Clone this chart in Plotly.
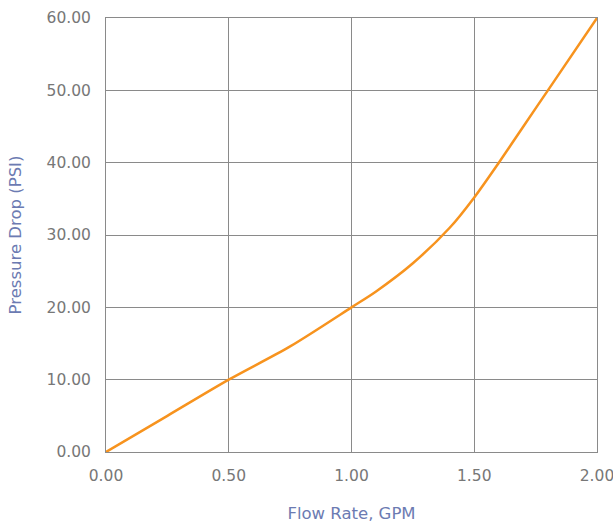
import plotly.graph_objects as go

flow_gpm = [0.0, 0.25, 0.5, 0.75, 1.0, 1.1, 1.25, 1.4, 1.5, 1.6, 1.7, 1.8, 2.0]
pressure_psi = [0.0, 5.0, 10.0, 14.6, 20.0, 22.2, 26.1, 31.0, 35.2, 40.0, 45.0, 50.0, 60.0]

x_ticks = [0.0, 0.5, 1.0, 1.5, 2.0]
y_ticks = [0, 10, 20, 30, 40, 50, 60]

grid = "#8a8a8a"
tick_col = "#777777"
title_col = "#6c7bb2"
font_fam = "DejaVu Sans, Open Sans, sans-serif"

fig = go.Figure()
fig.add_trace(go.Scatter(
    x=flow_gpm, y=pressure_psi, mode="lines",
    line=dict(color="#F7931E", width=2.5, shape="spline", smoothing=0.8),
    showlegend=False, hoverinfo="x+y",
))

fig.update_layout(
    width=613, height=523,
    margin=dict(l=106, r=16, t=18, b=71),
    paper_bgcolor="white", plot_bgcolor="white",
    font=dict(family=font_fam, size=15, color=tick_col),
)
fig.update_xaxes(
    range=[0, 2], tickvals=x_ticks, tickformat=".2f",
    automargin=False, ticklabeloverflow="allow",
    showgrid=True, gridcolor=grid, gridwidth=1,
    showline=True, linecolor=grid, linewidth=1, mirror=True,
    zeroline=False,
    ticks="outside", ticklen=9, tickcolor="rgba(0,0,0,0)",
    tickfont=dict(family=font_fam, size=15.5, color=tick_col),
    title=dict(text="Flow Rate, GPM", font=dict(family=font_fam, size=16.5, color=title_col), standoff=23),
)
fig.update_yaxes(
    range=[0, 60], tickvals=y_ticks, tickformat=".2f",
    automargin=False, ticklabeloverflow="allow",
    showgrid=True, gridcolor=grid, gridwidth=1,
    showline=True, linecolor=grid, linewidth=1, mirror=True,
    zeroline=False,
    ticks="outside", ticklen=11, tickcolor="rgba(0,0,0,0)",
    tickfont=dict(family=font_fam, size=15.5, color=tick_col),
    title=dict(text="Pressure Drop (PSI)", font=dict(family=font_fam, size=16.5, color=title_col), standoff=20),
)

fig.write_html("out.html", config={"displayModeBar": False})

# remove default page margin so the 613x523 figure fills the window exactly
with open("out.html", "r", encoding="utf-8") as f:
    html = f.read()
html = html.replace("<head>", "<head><style>html,body{margin:0;padding:0;overflow:hidden;}</style>", 1)
with open("out.html", "w", encoding="utf-8") as f:
    f.write(html)
